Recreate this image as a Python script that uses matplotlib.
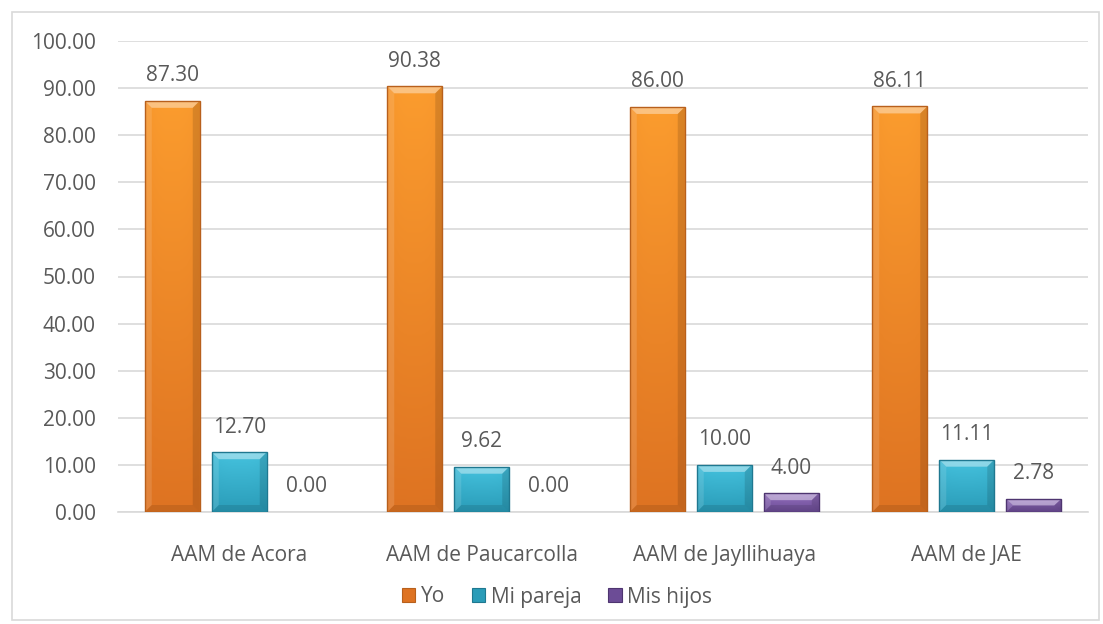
import matplotlib.pyplot as plt
import numpy as np
from matplotlib.colors import LinearSegmentedColormap
from matplotlib.patches import Rectangle, Polygon

plt.rcParams['font.family'] = ['Open Sans', 'DejaVu Sans']

# Data
# =====
categories = ['AAM de Acora', 'AAM de Paucarcolla', 'AAM de Jayllihuaya', 'AAM de JAE']
series = ['Yo', 'Mi pareja', 'Mis hijos']
yo = [87.30, 90.38, 86.00, 86.11]
pareja = [12.70, 9.62, 10.00, 11.11]
hijos = [0.00, 0.00, 4.00, 2.78]
yticks = np.arange(0, 101, 10)

# Bar colours: (light top, dark bottom, edge)
palette = [
    ('#FB9C2E', '#DE7322', '#B8601C'),
    ('#45C2DE', '#2A9CB8', '#1F7890'),
    ('#9470BE', '#6C4C96', '#4E3570'),
]
TEXT = '#595959'
GRID = '#D9D9D9'
FS = 15

W, H, DPI = 1103, 624, 100
fig = plt.figure(figsize=(W / DPI, H / DPI), dpi=DPI)
ax = fig.add_axes([118 / W, 1 - 512 / H, (1088 - 118) / W, (512 - 41) / H])
ax.set_xlim(-0.5, len(categories) - 0.5)
ax.set_ylim(0, 100)

ax_px_h = 512 - 41
ax_px_w = 1088 - 118
data_per_px_y = 100 / ax_px_h
data_per_px_x = len(categories) / ax_px_w

bar_w = 55 / 242.5
step = 67 / 242.5
x = np.arange(len(categories))


def gradient_bar(xc, h, colors):
    light, dark, edge = colors
    x0 = xc - bar_w / 2
    if h <= 0:
        # zero-height bar: nothing visible
        ax.add_patch(Rectangle((x0, 0), bar_w, 0, facecolor=dark, linewidth=0, zorder=3))
        return
    rect = Rectangle((x0, 0), bar_w, h, facecolor=dark, edgecolor='none',
                     linewidth=0, zorder=3)
    ax.add_patch(rect)
    cmap = LinearSegmentedColormap.from_list('g', [dark, light])
    grad = np.linspace(0, 1, 256).reshape(-1, 1)
    # horizontal shading: slightly darker at the sides
    side = np.linspace(0, 1, 64)
    side = 1 - 0.18 * (np.abs(side - 0.5) * 2) ** 3
    img = grad * side[None, :]
    im = ax.imshow(img, cmap=cmap, vmin=0, vmax=1, origin='lower', aspect='auto',
                   extent=(x0, x0 + bar_w, 0, h), zorder=3.5, interpolation='bilinear')
    im.set_clip_path(rect)
    # bevel at the top, bottom and sides
    bv_y = min(7 * data_per_px_y, h / 2)
    bv_x = 7 * data_per_px_x
    ax.add_patch(Polygon([(x0, h), (x0 + bar_w, h), (x0 + bar_w - bv_x, h - bv_y),
                          (x0 + bv_x, h - bv_y)], closed=True, facecolor='white',
                         alpha=0.4, edgecolor='none', zorder=4))
    ax.add_patch(Polygon([(x0, 0), (x0 + bar_w, 0), (x0 + bar_w - bv_x, bv_y),
                          (x0 + bv_x, bv_y)], closed=True, facecolor='black',
                         alpha=0.10, edgecolor='none', zorder=4))
    ax.add_patch(Polygon([(x0, 0), (x0, h), (x0 + bv_x, h - bv_y), (x0 + bv_x, bv_y)],
                         closed=True, facecolor='white', alpha=0.12,
                         edgecolor='none', zorder=4))
    ax.add_patch(Polygon([(x0 + bar_w, 0), (x0 + bar_w, h),
                          (x0 + bar_w - bv_x, h - bv_y), (x0 + bar_w - bv_x, bv_y)],
                         closed=True, facecolor='black', alpha=0.12,
                         edgecolor='none', zorder=4))
    ax.add_patch(Rectangle((x0, 0), bar_w, h, facecolor='none', edgecolor=edge,
                           linewidth=1.0, zorder=5))


for k, vals in enumerate([yo, pareja, hijos]):
    offs = (k - 1) * step
    for i, v in enumerate(vals):
        gradient_bar(x[i] + offs, v, palette[k])
        ax.annotate(f'{v:.2f}', (x[i] + offs, v), xytext=(0, 18), textcoords='offset points',
                    ha='center', va='center', fontsize=FS, color=TEXT, zorder=6)

ax.set_yticks(yticks)
ax.set_yticklabels([f'{t:.2f}' for t in yticks])
ax.set_xticks(x)
ax.set_xticklabels(categories)
ax.tick_params(axis='both', length=0, labelsize=FS, labelcolor=TEXT)
ax.tick_params(axis='y', pad=16)
ax.tick_params(axis='x', pad=24)
ax.grid(axis='y', color=GRID, linewidth=1.2, zorder=0)
ax.set_axisbelow(True)
for s in ['top', 'right', 'left']:
    ax.spines[s].set_visible(False)
ax.spines['bottom'].set_color(GRID)
ax.spines['bottom'].set_linewidth(1.2)

# Legend
handles = [Rectangle((0, 0), 1, 1, facecolor=c[1], edgecolor=c[2], linewidth=0.8)
           for c in palette]
fig.legend(handles, series, loc='center', bbox_to_anchor=(557 / W, 1 - 597 / H),
           ncol=3, frameon=False, fontsize=FS, labelcolor=TEXT,
           handlelength=0.65, handleheight=0.65, handletextpad=0.25, columnspacing=1.3)

# Chart border
fig.add_artist(Rectangle((12 / W, 1 - 620 / H), (1099 - 12) / W, (620 - 12) / H,
                         transform=fig.transFigure, facecolor='none',
                         edgecolor=GRID, linewidth=1.2))

fig.savefig('out.png', dpi=DPI)
